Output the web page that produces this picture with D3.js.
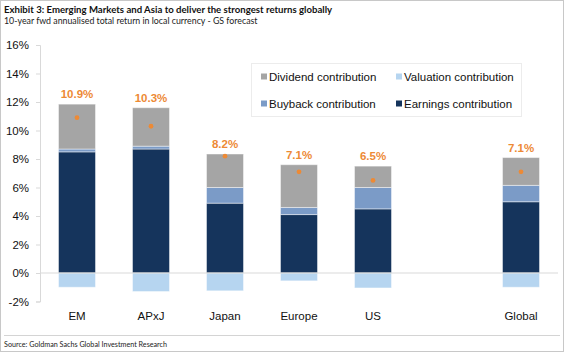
<!DOCTYPE html>
<html>
<head>
<meta charset="utf-8">
<script src="https://cdn.jsdelivr.net/npm/d3@7"></script>
<style>
  html, body { margin: 0; padding: 0; background: #fff; }
  svg { display: block; }
</style>
</head>
<body>
<div id="chart"></div>
<script>
// Data (% contribution, 10-year fwd annualised)
const categories = ['EM', 'APxJ', 'Japan', 'Europe', 'US', 'Global'];
const earnings = [8.5, 8.7, 4.9, 4.1, 4.5, 5.0];
const buyback = [0.2, 0.2, 1.1, 0.5, 1.5, 1.15];
const dividend = [3.15, 2.7, 2.35, 3.0, 1.5, 1.95];
const valuation = [-1.0, -1.3, -1.25, -0.55, -1.05, -1.0];
const totals = [10.9, 10.3, 8.2, 7.1, 6.5, 7.1];
const yTicks = [-2, 0, 2, 4, 6, 8, 10, 12, 14, 16];

const seriesInfo = [
  { key: 'earnings', label: 'Earnings contribution', color: '#15345c', values: earnings },
  { key: 'buyback', label: 'Buyback contribution', color: '#7b9bc7', values: buyback },
  { key: 'dividend', label: 'Dividend contribution', color: '#a5a5a5', values: dividend },
  { key: 'valuation', label: 'Valuation contribution', color: '#b6d5f0', values: valuation }
];

const width = 564, height = 352;
const margin = { top: 45, right: 6, bottom: 50, left: 40 };
const textFont = '"Liberation Sans", Arial, sans-serif';
const headFont = 'Lato, "Open Sans", sans-serif';

const svg = d3.select('#chart').append('svg')
  .attr('width', width)
  .attr('height', height);

// Frame
svg.append('rect')
  .attr('x', 0.5).attr('y', 0.5)
  .attr('width', width - 1).attr('height', height - 1)
  .attr('fill', '#fff')
  .attr('stroke', '#c8c8c8');

// Title + subtitle
svg.append('text')
  .attr('x', 4).attr('y', 13)
  .attr('font-family', headFont)
  .attr('font-size', 9.6)
  .attr('font-weight', 'bold')
  .attr('fill', '#111')
  .text('Exhibit 3: Emerging Markets and Asia to deliver the strongest returns globally');

svg.append('text')
  .attr('x', 4).attr('y', 24)
  .attr('font-family', headFont)
  .attr('font-size', 8.8)
  .attr('fill', '#222')
  .text('10-year fwd annualised total return in local currency - GS forecast');

// Source line
svg.append('line')
  .attr('x1', 4).attr('x2', width - 4)
  .attr('y1', 335.5).attr('y2', 335.5)
  .attr('stroke', '#d4d4d4');

svg.append('text')
  .attr('x', 4).attr('y', 347)
  .attr('font-family', headFont)
  .attr('font-size', 7.2)
  .attr('fill', '#222')
  .text('Source: Goldman Sachs Global Investment Research');

// Scales
const xDomain = [...categories.slice(0, 5), '_gap', categories[5]];
const x = d3.scaleBand()
  .domain(xDomain)
  .range([margin.left, width - margin.right])
  .paddingInner(0.5)
  .paddingOuter(0.25);

const y = d3.scaleLinear()
  .domain([-2, 16])
  .range([301.5, margin.top]);

// Y axis
const yAxis = d3.axisLeft(y)
  .tickValues(yTicks)
  .tickSize(4)
  .tickPadding(7)
  .tickFormat(d => d + '%');

const yAxisG = svg.append('g')
  .attr('class', 'y-axis')
  .attr('transform', `translate(${margin.left},0)`)
  .call(yAxis);

yAxisG.select('.domain').attr('stroke', '#d9d9d9');
yAxisG.selectAll('.tick line').attr('stroke', '#d9d9d9');
yAxisG.selectAll('.tick text')
  .attr('font-family', textFont)
  .attr('font-size', 11.5)
  .attr('fill', '#111');

// Stacked bars
const rows = categories.map((c, i) => {
  const row = { category: c };
  seriesInfo.forEach(s => { row[s.key] = s.values[i]; });
  return row;
});

const stack = d3.stack()
  .keys(seriesInfo.map(s => s.key))
  .offset(d3.stackOffsetDiverging);

const stacked = stack(rows);

const barsG = svg.append('g').attr('class', 'bars');
stacked.forEach((layer, li) => {
  barsG.selectAll(`.bar-${layer.key}`)
    .data(layer)
    .enter()
    .append('rect')
    .attr('class', `bar-${layer.key}`)
    .attr('x', d => x(d.data.category))
    .attr('width', x.bandwidth())
    .attr('y', d => y(Math.max(d[0], d[1])))
    .attr('height', d => Math.abs(y(d[0]) - y(d[1])))
    .attr('fill', seriesInfo[li].color)
    .attr('stroke', 'rgba(255,255,255,0.45)')
    .attr('stroke-width', 1);
});

// Zero line
svg.append('line')
  .attr('x1', margin.left).attr('x2', width - margin.right)
  .attr('y1', y(0)).attr('y2', y(0))
  .attr('stroke', '#d9d9d9')
  .attr('stroke-width', 1);

// Total markers
const stackTop = i => earnings[i] + buyback[i] + dividend[i];

svg.append('g').selectAll('circle')
  .data(totals)
  .enter()
  .append('circle')
  .attr('cx', (d, i) => x(categories[i]) + x.bandwidth() / 2)
  .attr('cy', d => y(d))
  .attr('r', 2.4)
  .attr('fill', '#ed8a35');

svg.append('g').selectAll('text')
  .data(totals)
  .enter()
  .append('text')
  .attr('x', (d, i) => x(categories[i]) + x.bandwidth() / 2)
  .attr('y', (d, i) => y(stackTop(i)) - 6)
  .attr('text-anchor', 'middle')
  .attr('font-family', textFont)
  .attr('font-size', 11.5)
  .attr('font-weight', 'bold')
  .attr('fill', '#ed8a35')
  .text(d => d.toFixed(1) + '%');

// Category labels
svg.append('g').selectAll('text')
  .data(categories)
  .enter()
  .append('text')
  .attr('x', d => x(d) + x.bandwidth() / 2)
  .attr('y', 320)
  .attr('text-anchor', 'middle')
  .attr('font-family', textFont)
  .attr('font-size', 11.5)
  .attr('fill', '#111')
  .text(d => d);

// Legend
const legendOrder = ['dividend', 'valuation', 'buyback', 'earnings'];
const legendG = svg.append('g').attr('class', 'legend');
legendG.append('rect')
  .attr('x', 251.5).attr('y', 63.5)
  .attr('width', 270).attr('height', 53)
  .attr('fill', '#fff')
  .attr('stroke', '#ececec');

const legendItems = legendG.selectAll('.legend-item')
  .data(legendOrder.map(k => seriesInfo.find(s => s.key === k)))
  .enter()
  .append('g')
  .attr('class', 'legend-item')
  .attr('transform', (d, i) => `translate(${i % 2 === 0 ? 261 : 396},${i < 2 ? 77 : 104})`);

legendItems.append('rect')
  .attr('x', 0).attr('y', -3.5)
  .attr('width', 6).attr('height', 6)
  .attr('fill', d => d.color);

legendItems.append('text')
  .attr('x', 8).attr('y', 4)
  .attr('font-family', textFont)
  .attr('font-size', 11.5)
  .attr('fill', '#111')
  .text(d => d.label);
</script>
</body>
</html>
